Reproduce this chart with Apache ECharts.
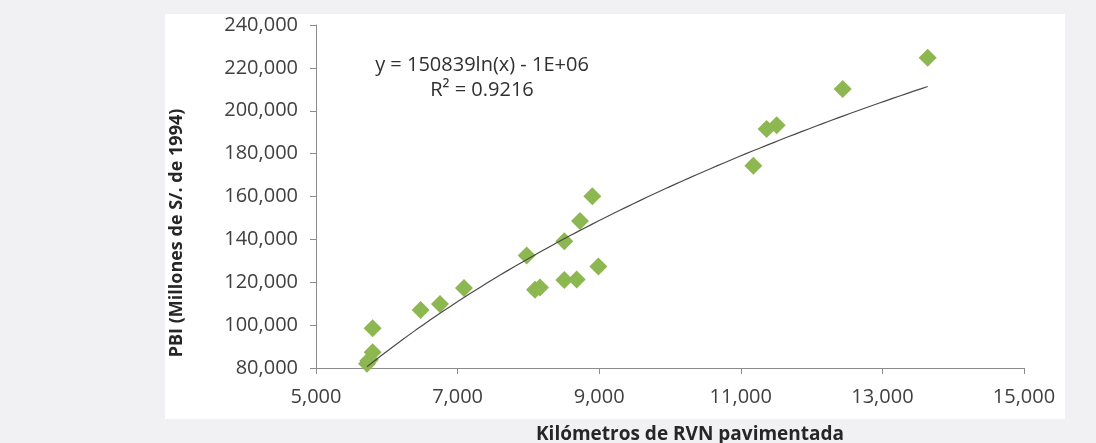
<!DOCTYPE html>
<html>
<head>
<meta charset="utf-8">
<script src="https://cdn.jsdelivr.net/npm/echarts@6/dist/echarts.min.js"></script>
<style>
html,body{margin:0;padding:0;background:#f1f1f4;}
#chart{width:1096px;height:443px;}
</style>
</head>
<body>
<div id="chart"></div>
<script>
// Kilómetros de RVN pavimentada (x) vs PBI (y)
var kmRVN = [5720, 5760, 5740, 5800, 5800, 6478, 6751, 7090, 8093, 8164, 8507, 8682, 8988, 7976, 8507, 8729, 8903, 11177, 11365, 11507, 12439, 13640];
var pbi   = [82000, 83800, 83400, 87400, 98600, 107100, 109800, 117300, 116500, 117600, 121100, 121300, 127400, 132500, 139100, 148600, 160100, 174400, 191500, 193200, 210100, 224700];
var xTicks = [5000, 7000, 9000, 11000, 13000, 15000];
var yTicks = [80000, 100000, 120000, 140000, 160000, 180000, 200000, 220000, 240000];
var equationText = 'y = 150839ln(x) - 1E+06';
var r2Text = 'R² = 0.9216';

var points = kmRVN.map(function(x, i){ return [x, pbi[i]]; });

// logarithmic least-squares trendline fitted from the data
var n = kmRVN.length, sl = 0, sy = 0, sll = 0, sly = 0;
for (var i = 0; i < n; i++) {
  var l = Math.log(kmRVN[i]);
  sl += l; sy += pbi[i]; sll += l * l; sly += l * pbi[i];
}
var slope = (n * sly - sl * sy) / (n * sll - sl * sl);
var intercept = (sy - slope * sl) / n;
var xMin = Math.min.apply(null, kmRVN), xMax = Math.max.apply(null, kmRVN);
var trend = [];
for (var k = 0; k <= 80; k++) {
  var xv = xMin + (xMax - xMin) * k / 80;
  trend.push([xv, slope * Math.log(xv) + intercept]);
}

var fmt = function(v){ return Number(v).toLocaleString('en-US'); };
var font = '"Open Sans", "Liberation Sans", sans-serif';

var chart = echarts.init(document.getElementById('chart'), null, {renderer: 'canvas'});
chart.setOption({
  backgroundColor: 'transparent',
  animation: false,
  graphic: [
    {type: 'rect', z: -10, shape: {x: 165, y: 14, width: 900, height: 405}, style: {fill: '#ffffff'}},
    {type: 'text', x: 177, y: 233, rotation: Math.PI / 2,
      style: {text: 'PBI (Millones de S/. de 1994)', fill: '#262626', font: 'bold 18px ' + font, align: 'center', verticalAlign: 'middle'}},
    {type: 'text', x: 690, y: 425,
      style: {text: 'Kilómetros de RVN pavimentada', fill: '#262626', font: 'bold 19px ' + font, align: 'center', verticalAlign: 'top'}},
    {type: 'text', x: 482, y: 65,
      style: {text: equationText, fill: '#303030', font: '20px ' + font, align: 'center', verticalAlign: 'middle'}},
    {type: 'text', x: 482, y: 90,
      style: {text: r2Text, fill: '#303030', font: '20px ' + font, align: 'center', verticalAlign: 'middle'}}
  ],
  grid: {left: 316, right: 72, top: 25, bottom: 75, containLabel: false},
  xAxis: {
    type: 'value', min: xTicks[0], max: xTicks[xTicks.length - 1], interval: 2000,
    splitLine: {show: false},
    axisLine: {show: true, lineStyle: {color: '#8c8c8c', width: 1}},
    axisTick: {show: true, inside: false, length: 6, lineStyle: {color: '#8c8c8c'}},
    axisLabel: {margin: 19, color: '#404040', fontSize: 20, fontFamily: font, formatter: fmt}
  },
  yAxis: {
    type: 'value', min: yTicks[0], max: yTicks[yTicks.length - 1], interval: 20000,
    splitLine: {show: false},
    axisLine: {show: true, lineStyle: {color: '#8c8c8c', width: 1}},
    axisTick: {show: true, inside: false, length: 6, lineStyle: {color: '#8c8c8c'}},
    axisLabel: {margin: 18, color: '#404040', fontSize: 20, fontFamily: font, formatter: fmt}
  },
  series: [
    {type: 'scatter', data: points, symbol: 'diamond', symbolSize: [18, 18],
      itemStyle: {color: '#8db750', opacity: 1}, z: 2},
    {type: 'line', data: trend, showSymbol: false, symbol: 'none', smooth: false,
      lineStyle: {color: '#4a4a4a', width: 1.2}, z: 3}
  ]
});
</script>
</body>
</html>
